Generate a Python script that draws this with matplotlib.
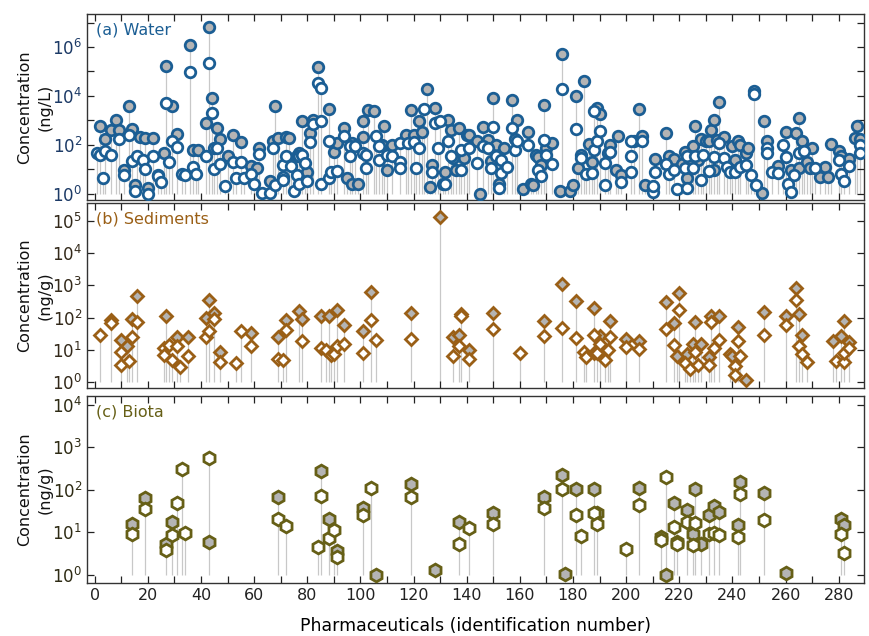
import numpy as np
import matplotlib.pyplot as plt
from matplotlib.ticker import FixedLocator, MultipleLocator, NullLocator

# values are log10(concentration); "max" = gray filled marker, "other" = white marker

# (a) Water, ng/L
water_max_id = [2, 4, 6, 8, 9, 11, 13, 14, 15, 17, 19, 20, 22, 24, 26, 27, 29, 31, 36, 37,
                39, 42, 43, 44, 45, 46, 47, 50, 52, 55, 59, 61, 62, 66, 67, 68, 69,
                72, 73, 77, 78, 80, 81, 82, 84, 88, 90, 91, 94, 95, 97, 97, 99, 101, 101, 103,
                105, 108, 109, 110, 112, 117, 119, 120, 122, 123, 125, 126, 127, 128, 132, 133,
                134, 135, 136, 137, 139, 140,
                141, 144, 145, 146, 148, 149, 150, 151, 152, 154, 157, 158, 159, 161, 163, 164,
                165, 166, 167, 168, 169, 170, 172, 175, 176, 179, 180, 181, 182, 183, 184, 186,
                187, 189, 190, 193, 194, 196, 197, 198, 203, 205, 206, 207, 210, 211,
                215, 216, 218, 221, 222, 223, 224, 225, 226, 227, 228, 230, 231, 232, 233, 233,
                234, 235, 237, 240, 241, 242, 243, 245, 246, 248, 251, 252, 253, 257, 260, 262,
                264, 265, 265, 266, 268, 269, 270, 273, 275, 276, 277, 280, 281, 284, 286, 287, 288]
water_max_log = [2.76, 2.25, 2.6, 3.03, 2.6, 0.97, 3.59, 2.65, 0.34, 2.3, 2.28, 0.23, 2.28, 0.76, 1.66,
                 5.24, 3.59, 2.44, 6.1, 1.79, 1.79, 2.9, 6.8, 3.9, 1.86, 2.69, 2.23, 1.56, 2.39, 2.11,
                 1.14, 1.03, 1.86, 0.52, 2.17, 3.59, 2.28,
                 2.3, 2.28, 1.66, 2.97, 0.9, 2.48, 3.03, 5.2, 3.45, 1.72, 2.07, 2.69, 0.65, 0.41, 2.07,
                 0.41, 2.3, 2.97, 3.41, 3.38, 2.0, 2.76, 0.97, 2.0, 2.41, 3.41, 2.41, 2.97, 2.52, 4.28,
                 0.28, 1.17, 3.52, 0.9, 3.03, 2.62, 1.45, 0.97, 2.69, 1.45, 2.41,
                 2.41, 2.14, 0.0, 2.72, 2.21, 1.34, 3.93, 1.97, 0.41, 1.86, 3.82, 2.25, 3.03, 0.21,
                 2.52, 0.41, 0.34, 1.59, 1.48, 1.17, 3.63, 1.86, 2.07, 0.1, 5.7, 0.1, 0.34, 4.0, 1.06,
                 1.59, 4.62, 2.03, 1.31, 3.52, 3.24, 1.66, 2.0, 0.97, 2.34, 0.76, 2.14, 3.45, 2.34,
                 0.37, 0.28, 1.42,
                 2.48, 1.52, 1.42, 1.2, 1.72, 0.62, 1.24, 1.93, 2.76, 1.38, 2.25, 2.14, 2.17, 2.62,
                 3.03, 0.97, 2.21, 3.75, 2.3, 1.93, 1.38, 2.14, 1.97, 1.66, 1.86, 4.18, 0.04, 2.97,
                 2.17, 1.14, 2.52, 0.97, 2.48, 3.08, 1.06, 2.17, 1.31, 1.03, 1.86, 0.69, 1.1, 0.69,
                 2.03, 1.75, 1.56, 1.42, 2.28, 2.76, 2.25]
water_other_id = [1, 2, 3, 4, 6, 9, 11, 13, 14, 15, 16, 18, 19, 20, 22, 24, 25, 27, 28, 29, 31, 33,
                  34, 36, 37, 38, 42, 43, 44, 45, 46, 47, 49, 52, 53, 55, 56, 59, 60, 62, 63, 66, 67, 68,
                  71, 71, 71, 72, 74, 75, 76, 76, 77, 77, 78, 79, 80, 81, 82, 84, 85, 85, 85, 88, 88,
                  89, 91, 94, 96, 96, 98, 101, 102, 102, 106, 107, 107, 110, 112, 115, 115, 115, 118,
                  120, 121, 122, 124, 127, 128, 129, 130, 131, 132, 133, 134, 138, 138,
                  141, 144, 146, 148, 149, 150, 151, 152, 153, 153, 155, 157, 158, 159, 163, 167, 168,
                  169, 170, 172, 176, 181, 183, 185, 187, 188, 188, 189, 190, 192, 192, 194, 198, 202,
                  202, 202, 206, 210, 211,
                  210, 215, 216, 218, 219, 222, 223, 223, 225, 226, 228, 229, 231, 233, 235, 237, 238,
                  239, 241, 243, 245, 247, 248, 249, 253, 253, 255, 257, 259, 260, 261, 262, 263, 265,
                  267, 271, 280, 281, 282, 284, 288, 288]
water_other_log = [1.66, 1.6, 0.66, 1.75, 1.59, 2.25, 0.76, 2.39, 1.34, 0.1, 1.56, 1.38, 1.0, 0.0, 1.52,
                   0.72, 0.46, 3.72, 1.28, 2.14, 1.9, 0.81, 0.76, 4.99, 1.1, 0.79, 1.54, 5.34, 3.31, 1.0,
                   1.86, 1.21, 0.3, 1.28, 0.65, 1.31, 0.65, 0.79, 0.39, 1.63, 0.03, 0.03, 1.86, 0.34,
                   0.69, 0.55, 1.17, 1.52, 1.14, 0.1, 0.76, 1.52, 1.52, 0.41, 1.59, 1.24, 0.51, 2.11,
                   2.83, 4.51, 4.34, 2.99, 0.41, 2.17, 0.62, 0.9, 0.92, 2.34, 1.93, 1.56, 1.93, 1.66,
                   1.03, 1.59, 2.34, 1.93, 1.38, 1.59, 1.52, 1.31, 1.03, 2.07, 2.07, 2.11, 1.03, 1.86,
                   3.45, 0.9, 2.9, 1.86, 2.97, 0.41, 0.41, 2.14, 1.56, 1.79, 0.97,
                   1.86, 1.24, 1.93, 1.86, 1.03, 2.72, 1.56, 0.23, 1.38, 0.83, 1.1, 2.69, 1.79, 2.17,
                   2.0, 0.97, 0.73, 2.21, 1.59, 1.2, 4.28, 2.66, 1.45, 0.79, 0.83, 3.38, 1.79, 2.17,
                   2.55, 0.37, 1.24, 1.72, 0.46, 2.14, 1.56, 0.87, 2.14, 0.07, 0.9,
                   0.32, 1.2, 0.79, 0.97, 0.17, 1.03, 0.23, 1.52, 1.06, 1.56, 0.55, 1.59, 0.92, 1.48,
                   2.07, 1.45, 1.1, 0.9, 0.9, 1.1, 1.17, 0.76, 4.07, 0.34, 1.86, 1.66, 0.87, 0.83, 2.0,
                   1.48, 0.41, 0.07, 0.76, 1.66, 1.75, 1.06, 1.38, 0.79, 0.51, 1.14, 2.0, 1.66]

# (b) Sediments, ng/g
sed_max_id = [6, 10, 12, 14, 16, 27, 31, 35, 42, 43, 45, 47, 59, 69, 72, 77, 78, 85, 88, 91,
              94, 101, 104, 119, 130, 135, 137, 138, 141, 150, 169, 176, 181, 188, 190, 194, 200,
              205, 215, 218, 219, 220, 223, 225, 226, 228, 231, 232, 235, 239, 240, 242, 245, 252,
              260, 264, 265, 266, 278, 281, 282, 284]
sed_max_log = [1.94, 1.32, 1.11, 1.97, 2.67, 2.04, 1.4, 1.4, 1.99, 2.56, 2.13, 0.92, 1.52, 1.4, 1.94,
               2.2, 1.96, 2.06, 2.06, 2.25, 1.78, 1.58, 2.79, 2.13, 5.12, 1.4, 1.47, 2.1, 0.99, 2.13,
               1.89, 3.05, 2.53, 2.3, 1.42, 1.89, 1.34, 1.27, 2.48, 1.82, 0.82, 2.77, 0.88, 1.19,
               1.86, 1.19, 0.78, 2.06, 2.06, 0.88, 0.8, 1.71, 0.07, 2.17, 2.04, 2.93, 2.1, 1.47,
               1.27, 1.42, 1.89, 1.23]
sed_other_id = [2, 6, 10, 10, 13, 14, 16, 26, 26, 28, 29, 31, 32, 35, 42, 43, 45, 47, 53, 55, 59, 69,
                71, 72, 78, 85, 87, 89, 90, 91, 94, 101, 104, 106, 119, 135, 137, 138, 141, 150, 160,
                169, 176, 181, 184, 185, 188, 188, 189, 190, 192, 193, 194, 200, 205, 215, 218, 220,
                222, 224, 226, 227, 231, 232, 233, 235, 241, 241, 242, 243, 252, 260, 264, 265, 266,
                268, 279, 282, 282, 284]
sed_other_log = [1.45, 1.84, 0.95, 0.52, 0.67, 1.4, 1.86, 1.06, 0.85, 1.16, 0.7, 1.11, 0.47, 0.82, 1.4,
                 1.58, 1.96, 0.61, 0.59, 1.58, 1.13, 0.72, 0.7, 1.63, 1.27, 1.06, 1.0, 0.85, 0.88, 1.11,
                 1.19, 0.9, 1.94, 1.32, 1.34, 0.8, 1.11, 2.04, 0.72, 1.65, 0.9, 1.44, 1.68, 1.37, 0.95,
                 0.78, 1.47, 0.9, 0.9, 1.19, 0.7, 1.0, 1.4, 1.09, 1.03, 1.65, 1.16, 2.23, 0.59, 0.4,
                 0.95, 0.54, 0.54, 1.86, 1.06, 1.32, 0.49, 0.23, 1.27, 0.8, 1.47, 1.78, 2.56, 1.13,
                 0.88, 0.61, 0.67, 0.61, 0.9, 1.06]

# (c) Biota, ng/g
bio_max_id = [14, 19, 27, 29, 43, 69, 85, 88, 91, 101, 106, 119, 128, 137, 150, 169, 176, 177, 181,
              188, 189, 205, 213, 215, 218, 219, 223, 225, 226, 228, 231, 233, 235, 242, 243, 252,
              260, 281, 282]
bio_max_log = [1.2, 1.8, 0.73, 1.24, 0.77, 1.83, 2.43, 1.3, 0.56, 1.56, 0.0, 2.13, 0.1, 1.24, 1.44,
               1.83, 2.35, 0.02, 2.01, 2.01, 1.44, 2.03, 0.89, 0.0, 1.68, 0.77, 1.52, 0.95, 2.01,
               0.72, 1.4, 1.61, 1.48, 1.17, 2.19, 1.93, 0.04, 1.32, 1.17]
bio_other_id = [14, 19, 27, 29, 31, 33, 34, 43, 69, 72, 84, 85, 88, 90, 91, 101, 104, 119, 137, 141,
                150, 169, 176, 181, 183, 188, 189, 200, 205, 213, 215, 218, 219, 223, 225, 226, 231,
                233, 235, 242, 243, 252, 281, 282]
bio_other_log = [0.95, 1.54, 0.57, 0.94, 1.69, 2.48, 0.98, 2.74, 1.3, 1.14, 0.65, 1.85, 0.85, 1.05,
                 0.42, 1.4, 2.03, 1.82, 0.73, 1.1, 1.18, 1.56, 2.01, 1.4, 0.91, 1.46, 1.2, 0.61, 1.64,
                 0.81, 2.29, 1.11, 0.73, 1.24, 0.69, 1.22, 0.95, 0.98, 0.93, 0.89, 1.91, 1.28, 0.95, 0.51]

W, H = 869, 636
fig = plt.figure(figsize=(W / 100, H / 100), dpi=100)

left, width = 87 / W, (864 - 87) / W
ax_a = fig.add_axes([left, 1 - 200 / H, width, 186 / H])
ax_b = fig.add_axes([left, 1 - 388 / H, width, 185 / H])
ax_c = fig.add_axes([left, 1 - 583 / H, width, 187 / H])

panels = [
    (ax_a, water_max_id, water_max_log, water_other_id, water_other_log, 'o', 7.6,
     '#1b5e94', '#1c3a66', '(a) Water', '(ng/L)', (-0.26, 7.35), range(0, 8), [0, 2, 4, 6]),
    (ax_b, sed_max_id, sed_max_log, sed_other_id, sed_other_log, 'D', 6.6,
     '#9a5f16', '#33291a', '(b) Sediments', '(ng/g)', (-0.18, 5.55), range(0, 6), range(0, 6)),
    (ax_c, bio_max_id, bio_max_log, bio_other_id, bio_other_log, 'h', 9.2,
     '#665f16', '#2e2b14', '(c) Biota', '(ng/g)', (-0.2, 4.21), range(0, 5), range(0, 5)),
]

for ax, mid, mlog, oid, olog, mk, ms, ec, tc, title, unit, ylim, dec, labdec in panels:
    ids = np.array(mid + oid)
    logs = np.array(mlog + olog)
    tops = {}
    for i, v in zip(ids, logs):
        tops[i] = max(tops.get(i, -9), v)
    sx = np.array(list(tops.keys()))
    sy = 10.0 ** np.array(list(tops.values()))
    ax.vlines(sx, 1.0, sy, color='#c8c8c8', lw=0.9, zorder=1)

    ax.plot(mid, 10.0 ** np.array(mlog), ls='none', marker=mk, ms=ms, mfc='#b4b4b4',
            mec=ec, mew=2.0, zorder=3)
    ax.plot(oid, 10.0 ** np.array(olog), ls='none', marker=mk, ms=ms, mfc='white',
            mec=ec, mew=2.0, zorder=4)

    ax.set_yscale('log')
    ax.set_ylim(10.0 ** ylim[0], 10.0 ** ylim[1])
    ax.set_xlim(-2.9, 289.5)

    ax.yaxis.set_major_locator(FixedLocator([10.0 ** d for d in dec]))
    ax.yaxis.set_minor_locator(NullLocator())
    ax.set_yticklabels([r'$10^{%d}$' % d if d in labdec else '' for d in dec])
    ax.xaxis.set_major_locator(MultipleLocator(20))
    ax.xaxis.set_minor_locator(MultipleLocator(10))
    ax.tick_params(which='both', direction='in', top=True, right=True, length=5,
                   width=0.9, colors='#222222', labelsize=12)
    ax.tick_params(axis='y', labelcolor=tc)
    for s in ax.spines.values():
        s.set_color('#333333')
        s.set_linewidth(1.0)

    ax.text(0.012, 0.955, title, transform=ax.transAxes, color=ec, fontsize=11.5,
            ha='left', va='top')
    ax.set_ylabel('Concentration\n' + unit, fontsize=11.5, color='#111111',
                  linespacing=1.45)

ax_a.tick_params(axis='x', labelbottom=False)
ax_b.tick_params(axis='x', labelbottom=False)
ax_c.tick_params(axis='x', labelsize=11.5)
ax_c.set_xlabel('Pharmaceuticals (identification number)', fontsize=12.5, labelpad=10)

for ax in (ax_a, ax_b, ax_c):
    ax.yaxis.set_label_coords(-0.044, 0.5)

fig.savefig('out.png', dpi=100)
